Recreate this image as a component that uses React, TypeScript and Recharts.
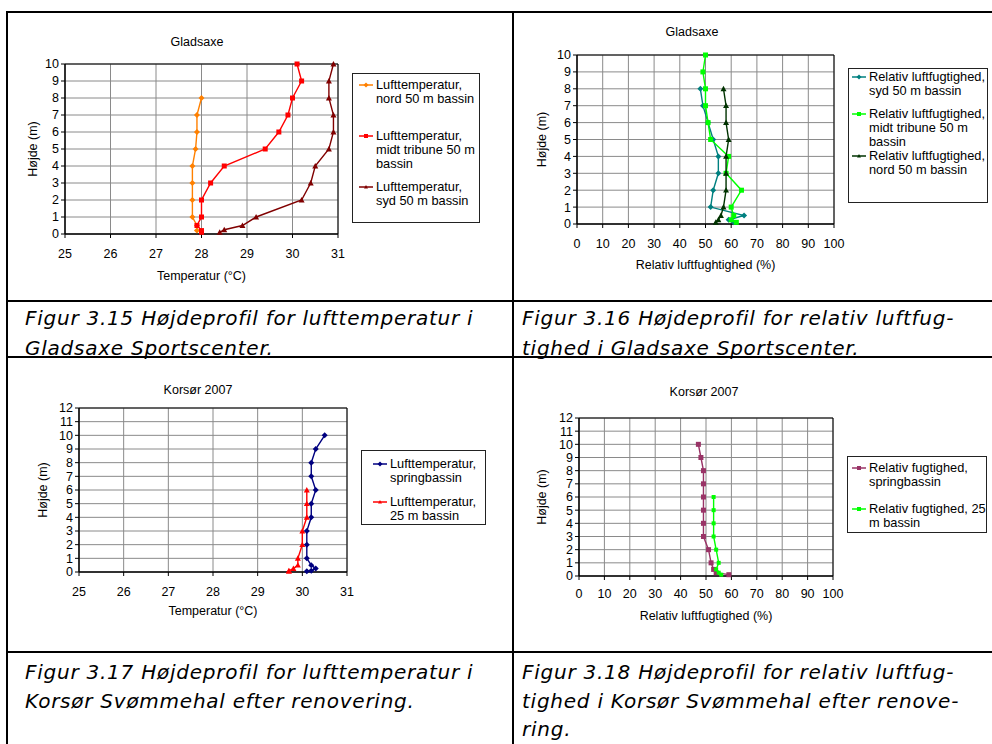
import React from "react"
import {
  ScatterChart, Scatter, XAxis, YAxis, CartesianGrid, Legend, ReferenceArea, Label,
} from "recharts"

// Gladsaxe - lufttemperatur (°C) pr. højde (m)
const gsNordHeights = [8, 7, 6, 5, 4, 3, 2, 1, 0.5, 0.2]
const gsNordTemp = [28.0, 27.9, 27.9, 27.87, 27.8, 27.8, 27.8, 27.8, 27.9, 27.9]
const gsMidtHeights = [10, 9, 8, 7, 6, 5, 4, 3, 2, 1, 0.5, 0.2, 0.1]
const gsMidtTemp = [30.1, 30.2, 30.0, 29.9, 29.7, 29.4, 28.5, 28.2, 28.0, 28.0, 27.9, 28.0, 28.0]
const gsSydHeights = [10, 9, 8, 7, 6, 5, 4, 3, 2, 1, 0.5, 0.25, 0.1]
const gsSydTemp = [30.9, 30.8, 30.8, 30.9, 30.9, 30.8, 30.5, 30.4, 30.2, 29.2, 28.9, 28.5, 28.4]

// Gladsaxe - relativ luftfugtighed (%)
const gsRhSydHeights = [8, 7, 6, 5, 4, 3, 2, 1, 0.5, 0.25, 0.1]
const gsRhSyd = [48, 49, 51, 53, 55, 55, 53, 52, 65, 59, 61]
const gsRhMidtHeights = [10, 9, 8, 7, 6, 5, 4, 3, 2, 1, 0.5, 0.25, 0.1]
const gsRhMidt = [50, 49, 50, 50, 51, 52, 59, 58, 64, 60, 61, 60, 62]
const gsRhNordHeights = [8, 7, 6, 5, 4, 3, 2, 1, 0.5, 0.25, 0.1]
const gsRhNord = [57, 58, 58, 59, 58, 58, 58, 57, 56, 55, 54]

// Korsør 2007 - lufttemperatur
const ksSpringHeights = [10, 9, 8, 7, 6, 5, 4, 3, 2, 1, 0.5, 0.25, 0.1, 0.05]
const ksSpringTemp = [30.5, 30.3, 30.2, 30.2, 30.3, 30.2, 30.2, 30.1, 30.1, 30.1, 30.2, 30.3, 30.2, 30.1]
const ks25Heights = [6, 5, 4, 3, 2, 1, 0.5, 0.25, 0.1, 0.05]
const ks25Temp = [30.1, 30.1, 30.1, 30.0, 30.0, 29.9, 29.9, 29.8, 29.7, 29.7]

// Korsør 2007 - relativ fugtighed
const ksRhSpringHeights = [10, 9, 8, 7, 6, 5, 4, 3, 2, 1, 0.5, 0.25, 0.1]
const ksRhSpring = [47, 48, 49, 49, 49, 49, 49, 49, 51, 52, 53, 54, 59]
const ksRh25Heights = [6, 5, 4, 3, 2, 1, 0.5, 0.25, 0.1]
const ksRh25 = [53, 53, 53, 53, 54, 55, 54, 55, 56]

const tempTicks = [25, 26, 27, 28, 29, 30, 31]
const rhTicks = [0, 10, 20, 30, 40, 50, 60, 70, 80, 90, 100]
const heightTicks10 = [0, 1, 2, 3, 4, 5, 6, 7, 8, 9, 10]
const heightTicks12 = [0, 1, 2, 3, 4, 5, 6, 7, 8, 9, 10, 11, 12]

const FONT = "'Liberation Sans', Arial, sans-serif"

type MarkerKind = "diamond" | "square" | "triangle"

interface Series {
  label: string[]
  color: string
  marker: MarkerKind
  size: number
  heights: number[]
  values: number[]
}

const zip = (heights: number[], values: number[]) => heights.map((y, i) => ({ x: values[i], y }))

function Marker({ cx, cy, kind, color, size }: { cx: number; cy: number; kind: MarkerKind; color: string; size: number }) {
  const s = size / 2
  if (kind === "square") return <rect x={cx - s} y={cy - s} width={size} height={size} fill={color} />
  if (kind === "diamond")
    return <path d={`M${cx},${cy - s - 0.5}L${cx + s + 0.5},${cy}L${cx},${cy + s + 0.5}L${cx - s - 0.5},${cy}Z`} fill={color} />
  return <path d={`M${cx},${cy - s}L${cx + s},${cy + s * 0.8}L${cx - s},${cy + s * 0.8}Z`} fill={color} />
}

interface ChartProps {
  left: number
  top: number
  width: number
  height: number
  margin: { top: number; right: number; bottom: number; left: number }
  yAxisWidth: number
  xAxisHeight: number
  xDomain: [number, number]
  xTicks: number[]
  yDomain: [number, number]
  yTicks: number[]
  xLabel: string
  xLabelOffset: number
  yLabelOffset: number
  xTickMargin: number
  title: string
  titleX: number
  titleY: number
  series: Series[]
  legend: { left: number; top: number; width: number; height: number; itemLeft: number; itemTops: number[] }
}

function ProfileChart(p: ChartProps) {
  const lg = p.legend
  return (
    <div style={{ position: "absolute", left: p.left, top: p.top }}>
      <ScatterChart width={p.width} height={p.height} margin={p.margin} style={{ fontFamily: FONT }}>
        <CartesianGrid stroke="#8a8a8a" />
        <XAxis
          type="number" dataKey="x" domain={p.xDomain} ticks={p.xTicks} interval={0}
          height={p.xAxisHeight} tickSize={4} tickMargin={p.xTickMargin}
          tick={{ fontSize: 12.5, fill: "#000" }} stroke="#000"
        >
          <Label value={p.xLabel} position="insideBottom" offset={p.xLabelOffset} fontSize={12.5} fill="#000" />
        </XAxis>
        <YAxis
          type="number" dataKey="y" domain={p.yDomain} ticks={p.yTicks} interval={0}
          width={p.yAxisWidth} tickSize={4} tickMargin={2}
          tick={{ fontSize: 12.5, fill: "#000" }} stroke="#000"
        >
          <Label
            value="Højde (m)" angle={-90} position="insideLeft" offset={p.yLabelOffset}
            fontSize={12.5} fill="#000" style={{ textAnchor: "middle" }}
          />
        </YAxis>
        <ReferenceArea x1={p.xDomain[0]} x2={p.xDomain[1]} y1={p.yDomain[0]} y2={p.yDomain[1]} fill="none" stroke="#000" />
        {p.series.map((s, i) => (
          <Scatter
            key={i}
            name={s.label.join(" ")}
            data={zip(s.heights, s.values)}
            fill={s.color}
            line={{ stroke: s.color, strokeWidth: 1.4 }}
            shape={(sp: any) => <Marker cx={sp.cx} cy={sp.cy} kind={s.marker} color={s.color} size={s.size} />}
            isAnimationActive={false}
          />
        ))}
        <Legend
          layout="vertical" align="center" verticalAlign="middle"
          wrapperStyle={{ left: lg.left, top: lg.top, width: lg.width, height: lg.height }}
          content={() => (
            <div style={{ position: "relative", width: "100%", height: "100%", boxSizing: "border-box", border: "1px solid #222", background: "#fff", fontFamily: FONT }}>
              {p.series.map((s, i) => (
                <div key={i} style={{ position: "absolute", left: lg.itemLeft, top: lg.itemTops[i], display: "flex", alignItems: "flex-start" }}>
                  <svg width={16} height={14}>
                    <line x1={1} x2={15} y1={7} y2={7} stroke={s.color} strokeWidth={1.5} />
                    <Marker cx={8} cy={7} kind={s.marker} color={s.color} size={4} />
                  </svg>
                  <div style={{ marginLeft: 2, fontSize: 12.8, lineHeight: "14px", color: "#000", whiteSpace: "nowrap" }}>
                    {s.label.map((l, j) => <div key={j}>{l}</div>)}
                  </div>
                </div>
              ))}
            </div>
          )}
        />
      </ScatterChart>
      <div style={{ position: "absolute", left: p.titleX, top: p.titleY, transform: "translate(-50%, -50%)", fontFamily: FONT, fontSize: 12.5, whiteSpace: "nowrap" }}>
        {p.title}
      </div>
    </div>
  )
}

const gsTempSeries: Series[] = [
  { label: ["Lufttemperatur,", "nord 50 m bassin"], color: "#ff8000", marker: "diamond", size: 5, heights: gsNordHeights, values: gsNordTemp },
  { label: ["Lufttemperatur,", "midt tribune 50 m", "bassin"], color: "#ff0000", marker: "square", size: 5, heights: gsMidtHeights, values: gsMidtTemp },
  { label: ["Lufttemperatur,", "syd 50 m bassin"], color: "#800000", marker: "triangle", size: 6, heights: gsSydHeights, values: gsSydTemp },
]
const gsRhSeries: Series[] = [
  { label: ["Relativ luftfugtighed,", "syd 50 m bassin"], color: "#008080", marker: "diamond", size: 5, heights: gsRhSydHeights, values: gsRhSyd },
  { label: ["Relativ luftfugtighed,", "midt tribune 50 m", "bassin"], color: "#00ff00", marker: "square", size: 5, heights: gsRhMidtHeights, values: gsRhMidt },
  { label: ["Relativ luftfugtighed,", "nord 50 m bassin"], color: "#003300", marker: "triangle", size: 6, heights: gsRhNordHeights, values: gsRhNord },
]
const ksTempSeries: Series[] = [
  { label: ["Lufttemperatur,", "springbassin"], color: "#000080", marker: "diamond", size: 5, heights: ksSpringHeights, values: ksSpringTemp },
  { label: ["Lufttemperatur,", "25 m bassin"], color: "#ff0000", marker: "triangle", size: 6, heights: ks25Heights, values: ks25Temp },
]
const ksRhSeries: Series[] = [
  { label: ["Relativ fugtighed,", "springbassin"], color: "#993366", marker: "square", size: 5, heights: ksRhSpringHeights, values: ksRhSpring },
  { label: ["Relativ fugtighed, 25", "m bassin"], color: "#00ff00", marker: "square", size: 4, heights: ksRh25Heights, values: ksRh25 },
]

const captionStyle: React.CSSProperties = {
  position: "absolute", fontFamily: "'DejaVu Sans', Verdana, sans-serif", fontStyle: "italic",
  fontSize: 20, letterSpacing: 0.75, lineHeight: "30px", color: "#000", whiteSpace: "nowrap",
}

const line = (left: number, top: number, width: number, height: number) => (
  <div style={{ position: "absolute", left, top, width, height, background: "#000" }} />
)

export default function App() {
  return (
    <div style={{ position: "absolute", left: 0, top: 0, width: 992, height: 744, overflow: "hidden", background: "#fff" }}>
      {line(6, 11, 992, 2)}
      {line(6, 11, 2, 744)}
      {line(512, 11, 2, 744)}
      {line(6, 300, 992, 2)}
      {line(6, 356, 992, 2)}
      {line(6, 651, 992, 2)}

      <ProfileChart
        left={8} top={14} width={505} height={286}
        margin={{ top: 50, right: 175, bottom: 10, left: 20 }} yAxisWidth={37} xAxisHeight={56}
        xDomain={[25, 31]} xTicks={tempTicks} yDomain={[0, 10]} yTicks={heightTicks10}
        xLabel="Temperatur (°C)" xLabelOffset={10} yLabelOffset={5} xTickMargin={11}
        title="Gladsaxe" titleX={189} titleY={28}
        series={gsTempSeries}
        legend={{ left: 344, top: 59, width: 128, height: 150, itemLeft: 5, itemTops: [4, 55, 106] }}
      />
      <ProfileChart
        left={515} top={14} width={477} height={286}
        margin={{ top: 41, right: 158, bottom: 10, left: 25 }} yAxisWidth={37} xAxisHeight={66}
        xDomain={[0, 100]} xTicks={rhTicks} yDomain={[0, 10]} yTicks={heightTicks10}
        xLabel="Relativ luftfughtighed (%)" xLabelOffset={21} yLabelOffset={2} xTickMargin={11}
        title="Gladsaxe" titleX={177} titleY={18}
        series={gsRhSeries}
        legend={{ left: 333, top: 54, width: 140, height: 135, itemLeft: 2, itemTops: [1, 38, 80] }}
      />
      <ProfileChart
        left={8} top={358} width={505} height={294}
        margin={{ top: 50, right: 166, bottom: 10, left: 30 }} yAxisWidth={41} xAxisHeight={70}
        xDomain={[25, 31]} xTicks={tempTicks} yDomain={[0, 12]} yTicks={heightTicks12}
        xLabel="Temperatur (°C)" xLabelOffset={27} yLabelOffset={5} xTickMargin={11}
        title="Korsør 2007" titleX={190} titleY={32}
        series={ksTempSeries}
        legend={{ left: 353, top: 92, width: 125, height: 75, itemLeft: 10, itemTops: [6, 44] }}
      />
      <ProfileChart
        left={515} top={358} width={477} height={294}
        margin={{ top: 60, right: 159, bottom: 10, left: 27 }} yAxisWidth={37} xAxisHeight={66}
        xDomain={[0, 100]} xTicks={rhTicks} yDomain={[0, 12]} yTicks={heightTicks12}
        xLabel="Relativ luftfugtighed (%)" xLabelOffset={22} yLabelOffset={0} xTickMargin={9}
        title="Korsør 2007" titleX={189} titleY={34}
        series={ksRhSeries}
        legend={{ left: 332, top: 98, width: 140, height: 77, itemLeft: 3, itemTops: [4, 45] }}
      />

      <div style={{ ...captionStyle, left: 25, top: 303 }}>
        <div>Figur 3.15 Højdeprofil for lufttemperatur i</div>
        <div>Gladsaxe Sportscenter.</div>
      </div>
      <div style={{ ...captionStyle, left: 522, top: 303 }}>
        <div>Figur 3.16 Højdeprofil for relativ luftfug-</div>
        <div>tighed i Gladsaxe Sportscenter.</div>
      </div>
      <div style={{ ...captionStyle, left: 25, top: 658, lineHeight: "28.5px" }}>
        <div>Figur 3.17 Højdeprofil for lufttemperatur i</div>
        <div>Korsør Svømmehal efter renovering.</div>
      </div>
      <div style={{ ...captionStyle, left: 522, top: 658, lineHeight: "28.5px" }}>
        <div>Figur 3.18 Højdeprofil for relativ luftfug-</div>
        <div>tighed i Korsør Svømmehal efter renove-</div>
        <div>ring.</div>
      </div>
    </div>
  )
}
